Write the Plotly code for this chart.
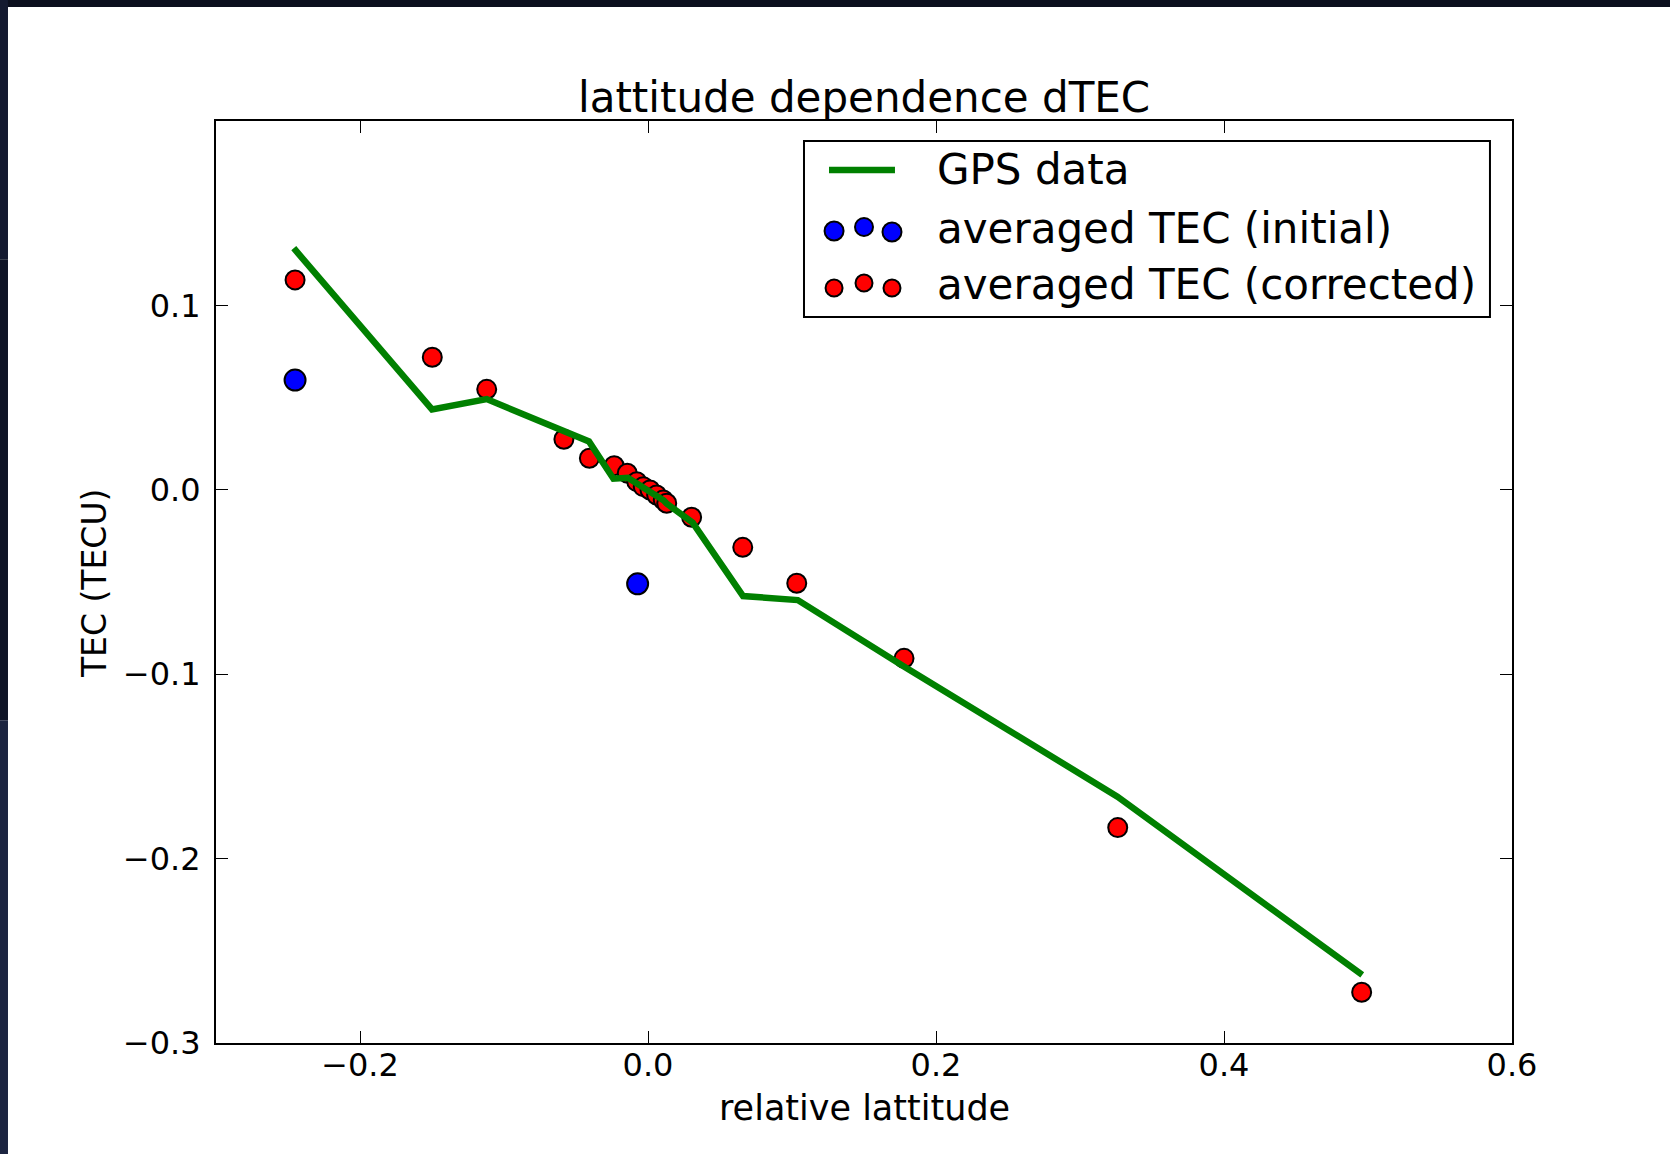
import plotly.graph_objects as go

# ---------------- data ----------------
gps_lat = [-0.246, -0.150, -0.112, -0.041, -0.024, -0.014, -0.008, -0.003, 0.001,
           0.006, 0.011, 0.013, 0.031, 0.066, 0.104, 0.178, 0.326, 0.496]
gps_tec = [0.131, 0.0436, 0.0492, 0.0262, 0.0060, 0.0065, 0.0035, 0.0012, -0.0005,
           -0.0030, -0.0058, -0.0075, -0.0178, -0.0576, -0.0598, -0.0959, -0.1664, -0.2631]

init_lat = [-0.2451, -0.0072]
init_tec = [0.0595, -0.0510]

corr_lat = [-0.2451, -0.1498, -0.1120, -0.0584, -0.0407, -0.0235, -0.0144, -0.0078,
            -0.0033, 0.0014, 0.0060, 0.0106, 0.0130, 0.0303, 0.0658, 0.1033,
            0.1778, 0.3262, 0.4956]
corr_tec = [0.1138, 0.0719, 0.0545, 0.0274, 0.0171, 0.0131, 0.0090, 0.0044,
            0.0017, -0.0001, -0.0028, -0.0055, -0.0073, -0.0149, -0.0312, -0.0507,
            -0.0914, -0.1832, -0.2725]

x_ticks = [-0.2, 0.0, 0.2, 0.4, 0.6]
y_ticks = [-0.3, -0.2, -0.1, 0.0, 0.1]

title_text = "lattitude dependence dTEC"
x_label = "relative lattitude"
y_label = "TEC (TECU)"
legend_names = ["GPS data", "averaged TEC (initial)", "averaged TEC (corrected)"]

# ---------------- figure ----------------
FONT = "DejaVu Sans"
GREEN = "#008000"

fig = go.Figure()

fig.add_trace(go.Scatter(
    x=init_lat, y=init_tec, mode="markers", name=legend_names[1], showlegend=False,
    marker=dict(color="#0000ff", size=21, opacity=1, line=dict(color="black", width=2))))
fig.add_trace(go.Scatter(
    x=corr_lat, y=corr_tec, mode="markers", name=legend_names[2], showlegend=False,
    marker=dict(color="#ff0000", size=19, opacity=1, line=dict(color="black", width=2))))
fig.add_trace(go.Scatter(
    x=gps_lat, y=gps_tec, mode="lines", name=legend_names[0], showlegend=False,
    line=dict(color=GREEN, width=6.5)))

# legend glyphs (decorative, on an invisible overlay axis spanning the plot area)
lg_x = [0.4769, 0.5000, 0.5216]
fig.add_trace(go.Scatter(
    x=lg_x, y=[0.8807, 0.8850, 0.8796], xaxis="x2", yaxis="y2", mode="markers",
    showlegend=False, hoverinfo="skip", opacity=1,
    marker=dict(color="#0000ff", size=[19, 18, 19], opacity=1,
                line=dict(color="black", width=2))))
fig.add_trace(go.Scatter(
    x=lg_x, y=[0.8189, 0.8243, 0.8189], xaxis="x2", yaxis="y2", mode="markers",
    showlegend=False, hoverinfo="skip", opacity=1,
    marker=dict(color="#ff0000", size=[17, 17, 17], opacity=1,
                line=dict(color="black", width=2))))

shapes = [
    # legend box
    dict(type="rect", xref="paper", yref="paper", x0=0.4537, x1=0.9830, y0=0.7874, y1=0.9783,
         line=dict(color="black", width=2), fillcolor="white", layer="below"),
    # legend line sample
    dict(type="line", xref="paper", yref="paper", x0=0.473, x1=0.5239, y0=0.9469, y1=0.9469,
         line=dict(color=GREEN, width=6.5), layer="above"),
    # dark slide borders
    dict(type="rect", xref="paper", yref="paper", x0=-0.2, x1=1.2, y0=1.1236, y1=1.2,
         line=dict(width=0), fillcolor="#0b0f1e", layer="above"),
    dict(type="rect", xref="paper", yref="paper", x0=-0.2, x1=-0.1605, y0=0.85, y1=1.2,
         line=dict(width=0), fillcolor="#141a30", layer="above"),
    dict(type="rect", xref="paper", yref="paper", x0=-0.2, x1=-0.1605, y0=0.35, y1=0.85,
         line=dict(width=0), fillcolor="#0f1426", layer="above"),
    dict(type="rect", xref="paper", yref="paper", x0=-0.2, x1=-0.1605, y0=-0.2, y1=0.35,
         line=dict(width=0), fillcolor="#1c2440", layer="above"),
]

annotations = [
    dict(text=legend_names[0], x=0.5548, y=0.9469, xref="paper", yref="paper",
         xanchor="left", yanchor="middle", showarrow=False,
         font=dict(family=FONT, size=42, color="black")),
    dict(text=legend_names[1], x=0.5548, y=0.8839, xref="paper", yref="paper",
         xanchor="left", yanchor="middle", showarrow=False,
         font=dict(family=FONT, size=42, color="black")),
    dict(text=legend_names[2], x=0.5548, y=0.8232, xref="paper", yref="paper",
         xanchor="left", yanchor="middle", showarrow=False,
         font=dict(family=FONT, size=42, color="black")),
    dict(text=title_text, x=0.5, y=1.026, xref="paper", yref="paper",
         xanchor="center", yanchor="middle", showarrow=False,
         font=dict(family=FONT, size=42, color="black")),
    dict(text=x_label, x=0.5, y=-0.0705, xref="paper", yref="paper",
         xanchor="center", yanchor="middle", showarrow=False,
         font=dict(family=FONT, size=35, color="black")),
    dict(text=y_label, x=-0.0941, y=0.4989, xref="paper", yref="paper",
         xanchor="center", yanchor="middle", showarrow=False, textangle=-90,
         font=dict(family=FONT, size=33, color="black")),
]

axis_common = dict(
    showgrid=False, zeroline=False, showline=True, linecolor="black", linewidth=2,
    mirror="allticks", ticks="inside", ticklen=12, tickwidth=1.3, tickcolor="black",
    tickfont=dict(family=FONT, size=32, color="black"), tickformat=".1f",
)

fig.update_layout(
    width=1670, height=1154,
    margin=dict(l=216, r=158, t=121, b=111),
    paper_bgcolor="white", plot_bgcolor="white",
    showlegend=False,
    xaxis=dict(range=[-0.3, 0.6], tickvals=x_ticks, ticklabelstandoff=-7, **axis_common),
    yaxis=dict(range=[-0.3, 0.2], tickvals=y_ticks, ticklabelstandoff=7, **axis_common),
    xaxis2=dict(overlaying="x", range=[0, 1], visible=False),
    yaxis2=dict(overlaying="y", range=[0, 1], visible=False),
    shapes=shapes, annotations=annotations,
)

fig.write_html("out.html")
